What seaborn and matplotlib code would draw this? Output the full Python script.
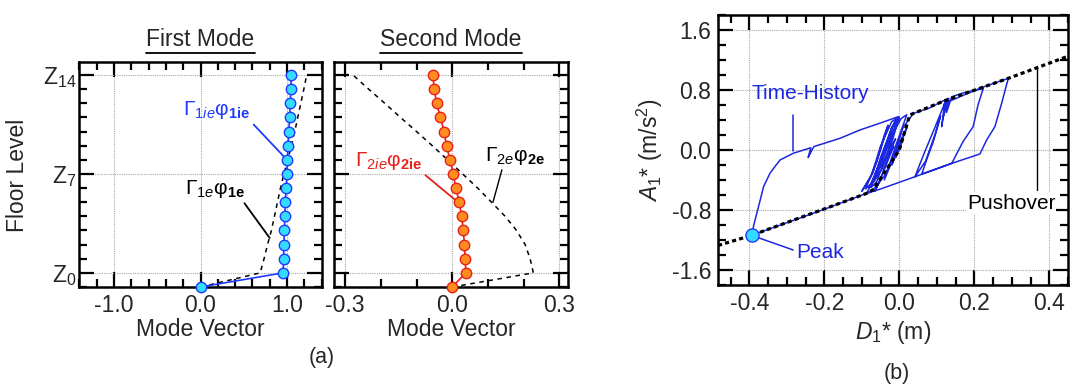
import matplotlib
matplotlib.use("Agg")
import matplotlib.pyplot as plt
import seaborn as sns
import numpy as np
import pandas as pd
from matplotlib.ticker import MultipleLocator, FixedLocator, FixedFormatter
from matplotlib.lines import Line2D

# ---------------- data ----------------
levels = list(range(16))
level_ticks = [1, 8, 15]
level_labels = [r"Z$_{0}$", r"Z$_{7}$", r"Z$_{14}$"]

mode1_ie = [0.0, 0.955, 0.96, 0.965, 0.97, 0.975, 0.98, 0.99, 1.0, 1.005,
            1.012, 1.022, 1.03, 1.038, 1.045, 1.05]
mode1_e = [0.0, 0.69, 0.735, 0.775, 0.82, 0.855, 0.89, 0.925, 0.965, 1.01,
           1.05, 1.09, 1.125, 1.16, 1.195, 1.228]
mode2_ie = [0.0, 0.038, 0.036, 0.034, 0.031, 0.026, 0.020, 0.010, 0.003, -0.0065,
            -0.016, -0.023, -0.033, -0.044, -0.050, -0.055]
mode2_e = [0.0, 0.227, 0.218, 0.204, 0.180, 0.148, 0.110, 0.071, 0.029, -0.013,
           -0.056, -0.100, -0.145, -0.189, -0.234, -0.278]

mode1_xticks = [-1.0, 0.0, 1.0]
mode2_xticks = [-0.3, 0.0, 0.3]

# pushover curve (D*, A*)
push_D = [-0.4835, -0.394, -0.159, -0.087, -0.07, 0.0, 0.028, 0.126, 0.291, 0.45]
push_A = [-1.273, -1.138, -0.711, -0.578, -0.53, 0.0, 0.467, 0.667, 0.956, 1.25]

# time-history response (D*, A*)
th_D = [0.0, 0.01, -0.01, 0.02, -0.02, 0.015, -0.04, -0.07, -0.087, -0.2, -0.3, -0.394,
        -0.388, -0.380, -0.370, -0.362, -0.345, -0.330, -0.318, -0.283, -0.236, -0.243,
        -0.238, -0.228, -0.158, -0.105, -0.05, -0.003,
        -0.03, -0.06, -0.075, -0.05, -0.02, -0.01, -0.035, -0.065, -0.09, -0.06, -0.04,
        -0.03, -0.05, -0.07, -0.1, -0.075, -0.05, -0.02, 0.0, -0.02, -0.045, -0.08,
        -0.055, -0.025, 0.005, 0.02, -0.01, -0.04, -0.015, 0.01,
        0.038, 0.08, 0.122, 0.113, 0.125, 0.118, 0.132, 0.126, 0.14, 0.17, 0.224,
        0.21, 0.197, 0.170, 0.140, 0.09, 0.042, 0.05, 0.07, 0.095, 0.121, 0.18, 0.224,
        0.291, 0.285, 0.273, 0.255, 0.233, 0.215, 0.14, 0.06, 0.075, 0.09, 0.11, 0.095,
        0.07, 0.042, -0.05, -0.087,
        -0.06, -0.04, -0.02, 0.0, -0.03, -0.06, -0.08, -0.05, -0.02, -0.04, -0.06,
        -0.03, -0.01, -0.03, -0.05, -0.065, -0.035, -0.015, -0.03]
th_A = [0.0, 0.15, -0.1, 0.3, -0.2, 0.25, -0.35, -0.53, -0.578, -0.79, -0.97, -1.138,
        -1.0, -0.844, -0.65, -0.489, -0.311, -0.21, -0.133, -0.044, 0.03, -0.10,
        -0.05, 0.045, 0.156, 0.267, 0.36, 0.444,
        0.0, -0.42, -0.5, -0.1, 0.3, 0.40, 0.05, -0.4, -0.52, -0.15, 0.2,
        0.33, 0.0, -0.3, -0.55, -0.35, 0.05, 0.38, 0.44, 0.1, -0.25, -0.5,
        -0.2, 0.15, 0.42, 0.47, 0.05, -0.4, -0.1, 0.3,
        0.489, 0.56, 0.667, 0.311, 0.672, 0.45, 0.69, 0.5, 0.71, 0.76, 0.822,
        0.6, 0.311, 0.111, -0.178, -0.27, -0.356, -0.25, 0.0, 0.3, 0.622, 0.75, 0.84,
        0.956, 0.85, 0.622, 0.311, 0.133, -0.053, -0.178, -0.32, -0.1, 0.1, 0.45, 0.2,
        -0.15, -0.356, -0.52, -0.578,
        -0.3, 0.0, 0.3, 0.42, 0.1, -0.35, -0.5, -0.2, 0.2, 0.0, -0.3,
        -0.05, 0.15, -0.1, -0.4, -0.55, -0.2, 0.05, -0.1]

peak_D = [-0.394]
peak_A = [-1.138]

b_xticks = [-0.4, -0.2, 0.0, 0.2, 0.4]
b_yticks = [-1.6, -0.8, 0.0, 0.8, 1.6]

# ---------------- style ----------------
sns.set_theme(style="ticks")
plt.rcParams["font.family"] = ["Liberation Sans", "DejaVu Sans"]
plt.rcParams["mathtext.fontset"] = "custom"
plt.rcParams["mathtext.rm"] = "Liberation Sans"
plt.rcParams["mathtext.it"] = "Liberation Sans:italic"
plt.rcParams["mathtext.bf"] = "Liberation Sans:bold"
plt.rcParams["axes.unicode_minus"] = False

W, H = 1070, 386
fig = plt.figure(figsize=(W / 100, H / 100), dpi=100)


def fbox(l, r, t, b):
    return [l / W, 1 - b / H, (r - l) / W, (b - t) / H]


ax1 = fig.add_axes(fbox(79, 322, 62, 287))
ax2 = fig.add_axes(fbox(334, 568, 62, 287))
ax3 = fig.add_axes(fbox(718, 1068, 15, 285))

FS = 16.5
BLUE = "#1f3bff"
CYAN = "#33dcff"
RED = "#e8201a"
ORANGE = "#ff8c1e"
TH_BLUE = "#1c28e0"


def style_axes(ax):
    for s in ax.spines.values():
        s.set_linewidth(1.8)
        s.set_color("black")
        s.set_visible(True)
    ax.tick_params(which="both", direction="in", top=True, right=True,
                   width=1.6, color="black", labelsize=FS, pad=5)
    ax.tick_params(which="major", length=11)
    ax.tick_params(which="minor", length=6)
    ax.grid(True, which="major", color="#a8a8a8", linestyle=(0, (1, 1)), linewidth=0.8)
    ax.set_facecolor("white")


# ---- panel a1 ----
sns.lineplot(x=mode1_e, y=levels, sort=False, estimator=None, orient="y", ax=ax1,
             color="black", linewidth=1.1, linestyle=(0, (3, 3)))
sns.lineplot(x=mode1_ie, y=levels, sort=False, estimator=None, orient="y", ax=ax1,
             color=BLUE, linewidth=1.2, marker="o", markersize=7.5,
             markerfacecolor=CYAN, markeredgecolor=BLUE, markeredgewidth=1.0,
             clip_on=False, zorder=5)
ax1.set_xlim(-1.405, 1.405)
ax1.set_ylim(0, 15.92)
ax1.xaxis.set_major_locator(FixedLocator(mode1_xticks))
ax1.xaxis.set_major_formatter(FixedFormatter([f"{v:.1f}" for v in mode1_xticks]))
ax1.xaxis.set_minor_locator(MultipleLocator(0.2))
ax1.yaxis.set_major_locator(FixedLocator(level_ticks))
ax1.yaxis.set_major_formatter(FixedFormatter(level_labels))
ax1.yaxis.set_minor_locator(MultipleLocator(1))
style_axes(ax1)
ax1.tick_params(axis="y", pad=2)
ax1.set_xlabel("")
ax1.set_ylabel("")

ax1.annotate("Γ$_{1\\mathit{ie}}$φ$_{\\mathbf{1ie}}$", xy=(1.0, 9.0), xytext=(-0.20, 12.5),
             color=BLUE, fontsize=15, va="center", ha="left",
             arrowprops=dict(arrowstyle="-", color=BLUE, lw=1.3, shrinkA=0, shrinkB=0,
                             relpos=(1.0, 0.0)))
ax1.annotate("Γ$_{1\\mathit{e}}$φ$_{\\mathbf{1e}}$", xy=(0.80, 3.47), xytext=(-0.18, 6.94),
             color="black", fontsize=15, va="center", ha="left",
             arrowprops=dict(arrowstyle="-", color="black", lw=1.3, shrinkA=0, shrinkB=0,
                             relpos=(0.95, 0.0)))

# ---- panel a2 ----
sns.lineplot(x=mode2_e, y=levels, sort=False, estimator=None, orient="y", ax=ax2,
             color="black", linewidth=1.1, linestyle=(0, (3, 3)))
sns.lineplot(x=mode2_ie, y=levels, sort=False, estimator=None, orient="y", ax=ax2,
             color=RED, linewidth=1.2, marker="o", markersize=7.5,
             markerfacecolor=ORANGE, markeredgecolor=RED, markeredgewidth=1.0,
             clip_on=False, zorder=5)
ax2.set_xlim(-0.331, 0.324)
ax2.set_ylim(0, 15.92)
ax2.xaxis.set_major_locator(FixedLocator(mode2_xticks))
ax2.xaxis.set_major_formatter(FixedFormatter([f"{v:.1f}" for v in mode2_xticks]))
ax2.xaxis.set_minor_locator(MultipleLocator(0.1))
ax2.yaxis.set_major_locator(FixedLocator(level_ticks))
ax2.yaxis.set_minor_locator(MultipleLocator(1))
style_axes(ax2)
ax2.tick_params(axis="y", labelleft=False)
ax2.set_xlabel("")
ax2.set_ylabel("")

ax2.annotate("Γ$_{2\\mathit{ie}}$φ$_{\\mathbf{2ie}}$", xy=(0.016, 6.0), xytext=(-0.273, 8.88),
             color=RED, fontsize=15, va="center", ha="left",
             arrowprops=dict(arrowstyle="-", color=RED, lw=1.3, shrinkA=0, shrinkB=0,
                             relpos=(1.0, 0.0)))
ax2.annotate("Γ$_{2\\mathit{e}}$φ$_{\\mathbf{2e}}$", xy=(0.114, 6.0), xytext=(0.091, 9.3),
             color="black", fontsize=15, va="center", ha="left",
             arrowprops=dict(arrowstyle="-", color="black", lw=1.0, shrinkA=0, shrinkB=0,
                             relpos=(0.3, 0.0)))

# ---- panel b ----
sns.lineplot(x=th_D, y=th_A, sort=False, estimator=None, ax=ax3,
             color=TH_BLUE, linewidth=1.1)
sns.lineplot(x=push_D, y=push_A, sort=False, estimator=None, ax=ax3,
             color="black", linewidth=2.3, linestyle=(0, (1.3, 1.0)), zorder=4)
sns.scatterplot(x=peak_D, y=peak_A, ax=ax3, s=90, color=CYAN, edgecolor=BLUE,
                linewidth=1.0, zorder=6)
ax3.set_xlim(-0.4835, 0.45)
ax3.set_ylim(-1.8, 1.8)
ax3.xaxis.set_major_locator(FixedLocator(b_xticks))
ax3.xaxis.set_major_formatter(FixedFormatter([f"{v:.1f}" for v in b_xticks]))
ax3.xaxis.set_minor_locator(MultipleLocator(0.05))
ax3.yaxis.set_major_locator(FixedLocator(b_yticks))
ax3.yaxis.set_major_formatter(FixedFormatter([f"{v:.1f}" for v in b_yticks]))
ax3.yaxis.set_minor_locator(MultipleLocator(0.2))
style_axes(ax3)
ax3.set_xlabel("")
ax3.set_ylabel("")

ax3.text(-0.393, 0.75, "Time-History", color=TH_BLUE, fontsize=15, va="center", ha="left")
ax3.plot([-0.283, -0.283], [0.467, -0.02], color=TH_BLUE, lw=1.1)
ax3.text(-0.276, -1.37, "Peak", color=TH_BLUE, fontsize=15, va="center", ha="left")
ax3.plot([peak_D[0], -0.283], [peak_A[0], -1.333], color=TH_BLUE, lw=1.1)
ax3.text(0.18, -0.713, "Pushover", color="black", fontsize=15, va="center", ha="left",
         bbox=dict(facecolor="white", edgecolor="none", pad=0.5))
ax3.plot([0.366, 0.366], [1.089, -0.533], color="black", lw=1.0)

# ---- labels ----
fig.text(18 / W, 1 - 175 / H, "Floor Level", rotation=90, fontsize=FS, ha="center", va="center")
fig.text(200 / W, 1 - 330 / H, "Mode Vector", fontsize=FS, ha="center", va="center")
fig.text(451 / W, 1 - 330 / H, "Mode Vector", fontsize=FS, ha="center", va="center")
fig.text(322 / W, 1 - 357 / H, "(a)", fontsize=FS - 1, ha="center", va="center")
fig.text(897 / W, 1 - 373 / H, "(b)", fontsize=FS - 1, ha="center", va="center")
fig.text(650 / W, 1 - 150 / H, "$\\mathit{A}_{1}$* (m/s$^{2}$)", rotation=90, fontsize=FS,
         ha="center", va="center")
fig.text(893 / W, 1 - 333 / H, "$\\mathit{D}_{1}$* (m)", fontsize=FS, ha="center", va="center")

t1 = fig.text(200.5 / W, 1 - 40 / H, "First Mode", fontsize=FS, ha="center", va="center")
t2 = fig.text(451 / W, 1 - 40 / H, "Second Mode", fontsize=FS, ha="center", va="center")

fig.canvas.draw()
r = fig.canvas.get_renderer()
for t in (t1, t2):
    bb = t.get_window_extent(r)
    y = (bb.y0 - 1) / H
    fig.add_artist(Line2D([bb.x0 / W, bb.x1 / W], [y, y], color="black", lw=1.3,
                          transform=fig.transFigure))

fig.savefig("out.png", dpi=100, facecolor="white")
